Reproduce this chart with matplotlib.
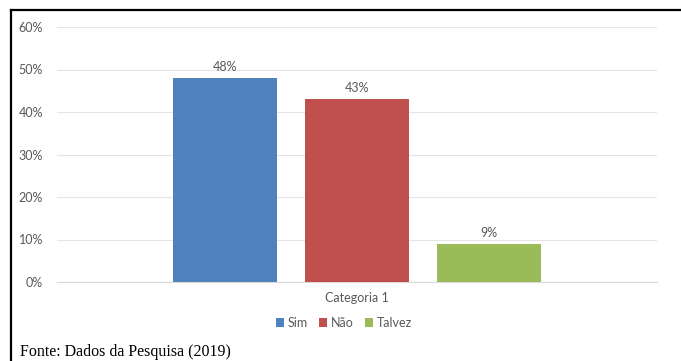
import matplotlib.pyplot as plt
from matplotlib.lines import Line2D
from matplotlib.patches import Patch

categories = ["Sim", "Não", "Talvez"]
values = [48, 43, 9]
colors = ["#4f81bd", "#c0504d", "#9bbb59"]
y_ticks = [0, 10, 20, 30, 40, 50, 60]
group_label = "Categoria 1"
source_note = "Fonte: Dados da Pesquisa (2019)"

W, H = 681, 361
fig = plt.figure(figsize=(W / 100, H / 100), dpi=100)
ax = fig.add_axes([57 / W, (H - 282) / H, 600 / W, 255 / H])

text_color = "#595959"
font = "Lato"
fs = 9

positions = list(range(len(values)))
bars = ax.bar(positions, values, width=104 / 132, color=colors, zorder=3)
for bar, v in zip(bars, values):
    ax.annotate(f"{v}%", (bar.get_x() + bar.get_width() / 2, v),
                xytext=(0, 3.5), textcoords="offset points",
                ha="center", va="bottom", fontsize=fs, color=text_color,
                family=font)

half = 300 / 132
ax.set_xlim(1 - half, 1 + half)
ax.set_ylim(0, 60)
ax.set_yticks(y_ticks)
ax.set_yticklabels([f"{t}%" for t in y_ticks], fontsize=fs, color=text_color,
                   family=font)
ax.tick_params(axis="y", length=0, pad=10)
ax.set_xticks([1])
ax.set_xticklabels([group_label], fontsize=fs, color=text_color, family=font)
ax.tick_params(axis="x", length=0, pad=7)
ax.grid(axis="y", color="#e4e4e4", linewidth=0.8, zorder=0)
for side in ["top", "right", "left"]:
    ax.spines[side].set_visible(False)
ax.spines["bottom"].set_color("#d9d9d9")
ax.spines["bottom"].set_linewidth(0.8)

handles = [Patch(facecolor=c, edgecolor="none") for c in colors]
fig.legend(handles, categories, loc="center", bbox_to_anchor=(344 / W, 1 - 323 / H),
           ncol=3, frameon=False, handlelength=0.65, handleheight=0.65,
           handletextpad=0.3, columnspacing=0.9,
           prop={"family": font, "size": fs}, labelcolor=text_color)

# frame lines around the figure block
fig.add_artist(Line2D([11 / W, 1], [1 - 9.5 / H, 1 - 9.5 / H], color="black",
                      linewidth=1.6, transform=fig.transFigure))
fig.add_artist(Line2D([11 / W, 11 / W], [0, 1 - 9.5 / H], color="black",
                      linewidth=1.6, transform=fig.transFigure))

fig.text(20 / W, 1 - 352 / H, source_note, ha="left", va="center",
         fontsize=11.5, family="Liberation Serif", color="black")

fig.savefig("out.png", dpi=100)
